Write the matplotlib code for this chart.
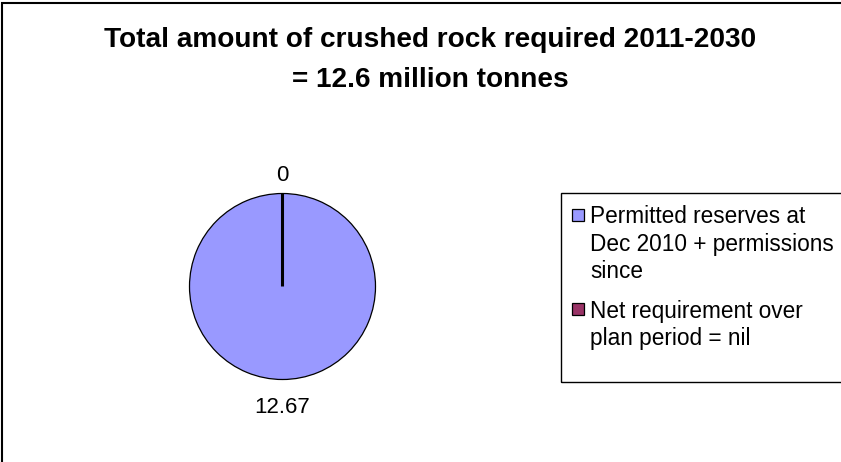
import matplotlib
matplotlib.use('Agg')
import matplotlib.pyplot as plt
from matplotlib.patches import Rectangle
import numpy as np

# ---- data ----
categories = ["Permitted reserves at\nDec 2010 + permissions\nsince",
              "Net requirement over\nplan period = nil"]
values = [12.67, 0]
value_labels = ["12.67", "0"]
colors = ["#9999FF", "#993366"]
title_lines = ["Total amount of crushed rock required 2011-2030",
               "= 12.6 million tonnes"]

plt.rcParams['font.family'] = ['Liberation Sans', 'DejaVu Sans']

W, H = 841, 462
fig = plt.figure(figsize=(W / 100, H / 100), dpi=100)
fig.patch.set_facecolor('white')


def fx(x):
    return x / W


def fy(y):
    return 1 - y / H


# outer chart frame (only left and top edges visible)
fig.patches.append(Rectangle((fx(2), -0.1), 1.2, fy(3) + 0.1,
                             transform=fig.transFigure, fill=False,
                             ec='black', lw=1.5))

# ---- title ----
fig.text(fx(430.5), fy(46.7), title_lines[0], ha='center', va='baseline',
         fontsize=20.2, fontweight='bold')
fig.text(fx(430.5), fy(86.7), title_lines[1], ha='center', va='baseline',
         fontsize=20.2, fontweight='bold')

# ---- pie ----
cx, cy, r = 282.5, 286.5, 93
ax = fig.add_axes([fx(cx - r), fy(cy + r), 2 * r / W, 2 * r / H])
wedges, _ = ax.pie(values, colors=colors, startangle=90, counterclock=False,
                   radius=1, wedgeprops=dict(edgecolor='black', linewidth=0.9))
wedges[1].set_linewidth(2.2)
for w in wedges:
    w.set_clip_on(False)
ax.set_xlim(-1, 1)
ax.set_ylim(-1, 1)
ax.set_aspect('equal')

for w, lab in zip(wedges, value_labels):
    ang = np.deg2rad((w.theta1 + w.theta2) / 2)
    x, y = np.cos(ang), np.sin(ang)
    d = 1.134 if y > 0 else 1.357
    ax.text(x * d, y * d, lab, ha='center', va='baseline', fontsize=16,
            clip_on=False)

# ---- legend ----
fig.patches.append(Rectangle((fx(561), fy(382)), 1.0, fy(193) - fy(382),
                             transform=fig.transFigure, fill=False,
                             ec='black', lw=1.0))
line_step = 27.5
item_gap = 39.4
base = 223.3
msize = 12
for lab, col in zip(categories, colors):
    lines = lab.split('\n')
    mcy = base - 8.3
    fig.patches.append(Rectangle((fx(577.5 - msize / 2), fy(mcy + msize / 2)),
                                 msize / W, msize / H,
                                 transform=fig.transFigure, fc=col,
                                 ec='black', lw=0.9))
    for i, ln in enumerate(lines):
        fig.text(fx(590), fy(base + i * line_step), ln, ha='left',
                 va='baseline', fontsize=16.3)
    base = base + (len(lines) - 1) * line_step + item_gap

fig.savefig('out.png', dpi=100, facecolor='white')
